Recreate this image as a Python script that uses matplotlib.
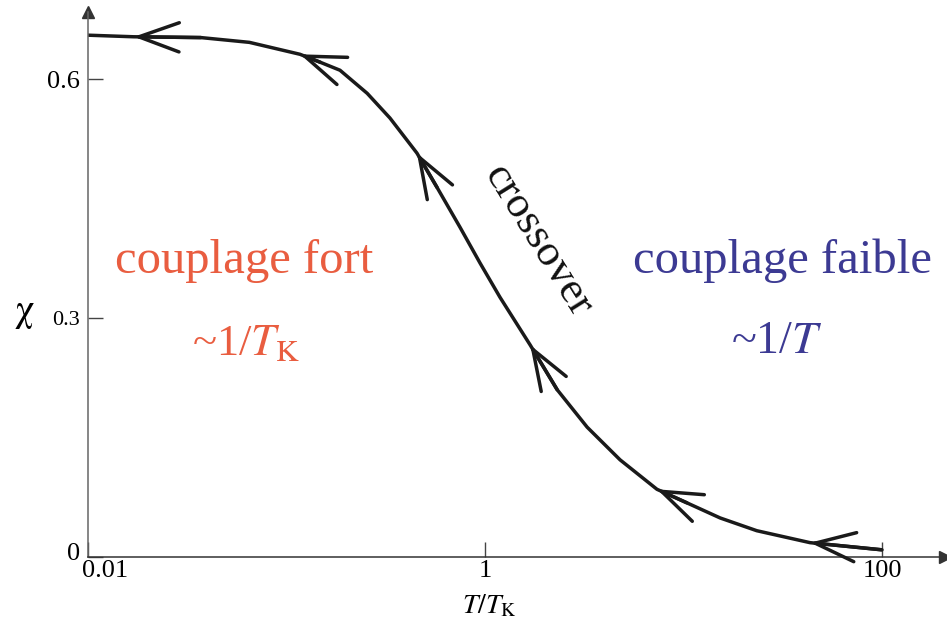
import numpy as np
import matplotlib
matplotlib.use('Agg')
import matplotlib.pyplot as plt
from matplotlib.transforms import ScaledTranslation

plt.rcParams['font.family'] = ['Liberation Serif', 'DejaVu Serif']
plt.rcParams['mathtext.fontset'] = 'stix'

# ---- data ----
T = [0.01, 0.017, 0.037, 0.065, 0.117, 0.148, 0.186, 0.255, 0.332, 0.454,
     0.573, 0.748, 0.944, 1.19, 1.69, 2.31, 3.27, 4.79, 7.35, 10.4, 15.3,
     23.4, 43.4, 100]
chi = [0.655, 0.653, 0.652, 0.646, 0.631, 0.621, 0.611, 0.582, 0.551, 0.507,
       0.464, 0.414, 0.369, 0.326, 0.266, 0.210, 0.163, 0.122, 0.085, 0.068,
       0.049, 0.033, 0.018, 0.009]
arrow_idx = [1, 4, 9, 14, 18, 22]
xticks = [0.01, 1, 100]
xtick_labels = ['0.01', '1', '100']
yticks = [0, 0.3, 0.6]
ytick_labels = ['0', '0.3', '0.6']

W, H = 947, 624
fig = plt.figure(figsize=(W / 100, H / 100), dpi=100)

def fx(x):
    return x / W

def fy(y):
    return 1 - y / H

ax_left, ax_right, ax_top, ax_bottom = 88, 945, 12, 557
ax = fig.add_axes([fx(ax_left), fy(ax_bottom), (ax_right - ax_left) / W, (ax_bottom - ax_top) / H])
ax.set_xscale('log')
ax.set_xlim(0.01, 10 ** ((ax_right - ax_left) / 198.5 - 2))
ax.set_ylim(0, (ax_bottom - ax_top) / 239 * 0.3)

for s in ['top', 'right']:
    ax.spines[s].set_visible(False)
ax.spines['left'].set_color('#666666')
ax.spines['left'].set_linewidth(1.1)
ax.spines['bottom'].set_color('#333333')
ax.spines['bottom'].set_linewidth(1.1)

# axis arrows
ax.plot([0], [1], marker='^', ms=9, color='#333333', transform=ax.transAxes, clip_on=False)
ax.plot([1], [0], marker='>', ms=9, color='#333333', transform=ax.transAxes, clip_on=False)

ax.set_xticks(xticks, xtick_labels)
ax.set_yticks(yticks, ytick_labels)
ax.minorticks_off()
ax.tick_params(axis='x', which='both', direction='in', length=11, width=1.0, color='#444444',
               pad=2, labelsize=19)
ax.tick_params(axis='y', which='both', direction='in', length=11, width=1.0, color='#444444',
               pad=5.5, labelsize=19)
ylabs = ax.get_yticklabels()
ylabs[1].set_fontsize(16)
ylabs[0].set_transform(ylabs[0].get_transform() + ScaledTranslation(0, 0.06, fig.dpi_scale_trans))
xlabs = ax.get_xticklabels()
xlabs[0].set_transform(xlabs[0].get_transform() + ScaledTranslation(0.17, 0, fig.dpi_scale_trans))

# curve
ax.plot(T, chi, color='#1a1a1a', lw=2.5, solid_capstyle='butt', solid_joinstyle='round', clip_on=False)

# open arrowheads along the curve (pointing to lower T)
for i in arrow_idx:
    ax.annotate('', xy=(T[i], chi[i]), xytext=(T[i + 1], chi[i + 1]),
                arrowprops=dict(arrowstyle='->,head_length=29,head_width=10.5',
                                lw=2.5, color='#1a1a1a', shrinkA=0, shrinkB=0,
                                mutation_scale=1), annotation_clip=False)

# labels
fig.text(fx(489), fy(613), r'$T/T_{\mathrm{K}}$', ha='center', va='baseline', fontsize=20)
fig.text(fx(24), fy(312), 'χ', ha='center', va='center', fontsize=28,
         family=['STIXGeneral', 'DejaVu Serif'])

red = '#E95D40'
blue = '#3C3A93'
fig.text(fx(244), fy(273), 'couplage fort', ha='center', va='baseline', fontsize=35, color=red)
fig.text(fx(246), fy(355), r'~1/$T_{\mathrm{K}}$', ha='center', va='baseline', fontsize=32, color=red)
fig.text(fx(782), fy(273), 'couplage faible', ha='center', va='baseline', fontsize=35, color=blue)
fig.text(fx(777), fy(353), r'~1/$T$', ha='center', va='baseline', fontsize=33, color=blue)
fig.text(fx(538), fy(241), 'crossover', ha='center', va='center', rotation=-58,
         rotation_mode='anchor', fontsize=32, color='#111111')

fig.savefig('out.png', dpi=100)
